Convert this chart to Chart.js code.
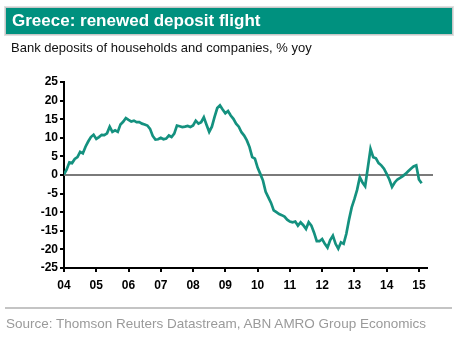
<!DOCTYPE html>
<html>
<head>
<meta charset="utf-8">
<script src="https://cdn.jsdelivr.net/npm/chart.js@4.4.1/dist/chart.umd.min.js"></script>
<style>
  html, body { margin: 0; padding: 0; background: #ffffff; }
  body { width: 460px; height: 341px; position: relative; overflow: hidden; font-family: "Liberation Sans", Arial, sans-serif; }
  #banner { position: absolute; left: 5px; top: 7px; width: 446px; height: 26px; background: #00917f; border: 1px solid #c8c8c8; box-shadow: 0 0 0 1px #e0e0e0; }
  #banner span { position: absolute; left: 6px; top: 3px; color: #ffffff; font-weight: bold; font-size: 17px; white-space: nowrap; }
  #sub { position: absolute; left: 11px; top: 40px; font-size: 13px; color: #111; white-space: nowrap; }
  #sep { position: absolute; left: 5px; top: 307px; width: 447px; height: 2px; background: #c4c4c4; }
  #src { position: absolute; left: 6px; top: 316px; font-size: 13.5px; color: #9a9a9a; white-space: nowrap; }
  #wrap { position: absolute; left: 0; top: 0; width: 460px; height: 341px; }
</style>
</head>
<body>
<div id="wrap"><canvas id="c" width="460" height="341"></canvas></div>
<div id="banner"><span>Greece: renewed deposit flight</span></div>
<div id="sub">Bank deposits of households and companies, % yoy</div>
<div id="sep"></div>
<div id="src">Source: Thomson Reuters Datastream, ABN AMRO Group Economics</div>
<script>
// Monthly series, Jan 2004 .. Feb 2015
const startYear = 2004;
const deposits = [
  0.2, 1.5, 3.4, 3.2, 4.3, 4.8, 6.2, 5.8, 7.6, 9.0, 10.2, 10.8,
  9.7, 10.2, 10.8, 10.7, 11.2, 13.0, 11.6, 12.0, 11.6, 13.6, 14.3, 15.3,
  14.8, 14.4, 14.6, 14.2, 14.2, 13.8, 13.6, 13.3, 12.4, 10.5, 9.5, 9.6,
  10.0, 9.6, 9.8, 10.6, 10.2, 11.1, 13.3, 13.1, 12.9, 13.0, 13.2, 12.9,
  13.3, 14.6, 13.8, 14.2, 15.5, 13.5, 11.6, 13.0, 15.6, 18.0, 18.7, 17.6,
  16.6, 17.2, 16.0, 15.1, 13.8, 13.0, 11.5, 10.6, 9.3, 7.5, 4.8, 4.4,
  2.0, 0.3, -1.5, -4.5, -6.0, -7.5, -9.5, -10.0, -10.5, -10.8, -11.2, -12.0,
  -12.5, -12.7, -12.5, -13.6, -12.7, -13.5, -14.5, -12.7, -13.6, -15.5, -17.8, -17.8,
  -17.2, -18.5, -19.5, -17.5, -16.3, -18.5, -19.8, -18.1, -18.5, -15.8, -12.0, -8.7,
  -6.5, -4.0, -0.6, -2.0, -3.0, 2.0, 7.0, 4.8, 4.5, 3.2, 2.6, 1.7,
  0.3, -1.2, -3.2, -2.0, -1.2, -0.8, -0.3, 0.3, 1.0, 1.7, 2.3, 2.6,
  -1.2, -2.2
];
const yearTicks = [2004, 2005, 2006, 2007, 2008, 2009, 2010, 2011, 2012, 2013, 2014, 2015];
const yearLabels = ['04', '05', '06', '07', '08', '09', '10', '11', '12', '13', '14', '15'];
const yTicks = [25, 20, 15, 10, 5, 0, -5, -10, -15, -20, -25];

const points = deposits.map((v, i) => ({ x: startYear + i / 12, y: v }));

const zeroLine = {
  id: 'zeroLine',
  beforeDatasetsDraw(chart) {
    const { ctx, chartArea, scales } = chart;
    const y = scales.y.getPixelForValue(0);
    ctx.save();
    ctx.strokeStyle = '#7a7a7a';
    ctx.lineWidth = 2;
    ctx.beginPath();
    ctx.moveTo(chartArea.left, y);
    ctx.lineTo(chartArea.right + 6, y);
    ctx.stroke();
    ctx.restore();
  }
};

const tickFont = { family: '"Liberation Sans", Arial, sans-serif', size: 12, weight: 'bold' };

new Chart(document.getElementById('c'), {
  type: 'line',
  data: {
    datasets: [{
      data: points,
      borderColor: '#14917f',
      borderWidth: 2.7,
      pointRadius: 0,
      tension: 0,
      fill: false
    }]
  },
  options: {
    responsive: false,
    animation: false,
    devicePixelRatio: 1,
    layout: { padding: { left: 0, right: 33, top: 82, bottom: 43 } },
    plugins: { legend: { display: false }, tooltip: { enabled: false } },
    scales: {
      x: {
        type: 'linear',
        min: 2004,
        max: 2015.25,
        afterBuildTicks(scale) { scale.ticks = yearTicks.map(v => ({ value: v })); },
        afterFit(scale) { scale.height = 30; },
        ticks: {
          color: '#000',
          font: tickFont,
          padding: 6,
          maxRotation: 0,
          autoSkip: false,
          callback(value) { const i = yearTicks.indexOf(value); return i >= 0 ? yearLabels[i] : ''; }
        },
        grid: { display: true, drawOnChartArea: false, drawTicks: true, tickLength: 4, color: '#000', lineWidth: 2 },
        border: { display: true, color: '#000', width: 2 }
      },
      y: {
        min: -25,
        max: 25,
        afterBuildTicks(scale) { scale.ticks = yTicks.map(v => ({ value: v })); },
        afterFit(scale) { scale.width = 64; },
        ticks: { color: '#000', font: tickFont, padding: 2, autoSkip: false },
        grid: { display: true, drawOnChartArea: false, drawTicks: true, tickLength: 4, color: '#000', lineWidth: 2 },
        border: { display: true, color: '#000', width: 2 }
      }
    }
  },
  plugins: [zeroLine]
});
</script>
</body>
</html>
